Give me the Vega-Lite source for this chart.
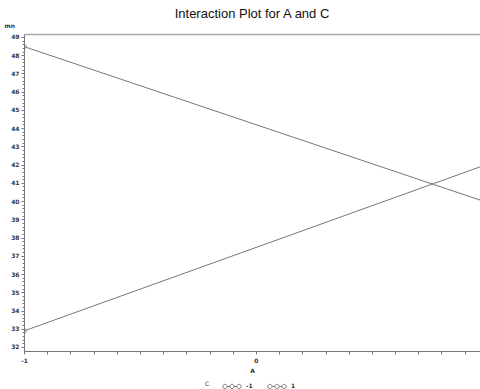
{
  "$schema": "https://vega.github.io/schema/vega-lite/v6.json",
  "width": 456,
  "height": 317,
  "autosize": {"type": "none"},
  "padding": {"left": 24, "top": 34, "right": 0, "bottom": 38},
  "background": "white",
  "title": {"text": "Interaction Plot for A and C", "fontSize": 13, "font": "Liberation Sans", "fontWeight": "normal", "color": "#111", "offset": 1, "anchor": "middle"},
  "config": {
    "view": {"stroke": null},
    "axis": {"labelFont": "DejaVu Sans", "labelFontSize": 6, "labelFontWeight": "bold", "labelColor": "#333", "domainColor": "#777", "tickColor": "#777", "grid": false, "titleFont": "DejaVu Sans", "titleFontSize": 6, "titleFontWeight": "bold", "titleColor": "#333"},
    "legend": {"labelFont": "DejaVu Sans", "labelFontSize": 6, "labelFontWeight": "bold", "labelColor": "#333", "titleFont": "DejaVu Sans", "titleFontSize": 6, "titleFontWeight": "normal", "titleColor": "#333"}
  },
  "data": {"values": [
    {"A": -1, "C": "-1", "mn": 48.47},
    {"A": 1, "C": "-1", "mn": 39.91},
    {"A": -1, "C": "1", "mn": 32.88},
    {"A": 1, "C": "1", "mn": 42.03}
  ]},
  "resolve": {"axis": {"x": "independent", "y": "independent"}},
  "layer": [
    {
      "mark": {"type": "line", "clip": true, "strokeWidth": 1},
      "encoding": {
        "x": {"field": "A", "type": "quantitative", "scale": {"domain": [-1, 0.966], "nice": false, "zero": false},
          "axis": {"orient": "bottom", "values": [-1, -0.9, -0.8, -0.7, -0.6, -0.5, -0.4, -0.3, -0.2, -0.1, 0, 0.1, 0.2, 0.3, 0.4, 0.5, 0.6, 0.7, 0.8, 0.9],
            "labelExpr": "datum.value == 0 ? '0' : (datum.value == -1 ? '-1' : '')", "tickSize": 3, "labelPadding": 3, "title": "A", "titlePadding": 4, "labelFlush": false, "labelOverlap": false}},
        "y": {"field": "mn", "type": "quantitative", "scale": {"domain": [31.78, 49.16], "nice": false, "zero": false},
          "axis": {"orient": "left", "values": [32, 33, 34, 35, 36, 37, 38, 39, 40, 41, 42, 43, 44, 45, 46, 47, 48, 49], "tickSize": 3, "labelPadding": 2,
            "title": "mn", "titleAngle": 0, "titleX": -20, "titleY": -6, "titleAlign": "left", "titleBaseline": "bottom", "labelOverlap": false}},
        "color": {"field": "C", "type": "nominal", "scale": {"range": ["#777777", "#777777"]},
          "legend": {"orient": "none", "legendX": 181, "legendY": 344, "direction": "horizontal", "titleOrient": "left", "title": "C", "titlePadding": 14,
            "symbolType": "M-1.3,0 A0.3,0.3 0 1,1 -0.7,0 A0.3,0.3 0 1,1 -1.3,0 M-0.7,0 L-0.3,0 A0.3,0.3 0 1,1 0.3,0 A0.3,0.3 0 1,1 -0.3,0 M0.3,0 L0.7,0 A0.3,0.3 0 1,1 1.3,0 A0.3,0.3 0 1,1 0.7,0",
            "symbolSize": 200, "symbolStrokeWidth": 1, "symbolFillColor": "transparent", "symbolStrokeColor": "#777", "labelOffset": 6, "columnPadding": 12}}
      }
    },
    {
      "mark": {"type": "point", "shape": "circle", "filled": false, "clip": true, "size": 22, "strokeWidth": 1, "color": "#777777"},
      "encoding": {
        "x": {"field": "A", "type": "quantitative", "axis": {"orient": "top", "ticks": false, "labels": false, "title": null, "domainWidth": 1.5, "domainColor": "#aaa"}},
        "y": {"field": "mn", "type": "quantitative",
          "axis": {"orient": "left", "labels": false, "title": null, "tickSize": 2, "domain": false,
            "values": [32, 32.2, 32.4, 32.6, 32.8, 33, 33.2, 33.4, 33.6, 33.8, 34, 34.2, 34.4, 34.6, 34.8, 35, 35.2, 35.4, 35.6, 35.8, 36, 36.2, 36.4, 36.6, 36.8, 37, 37.2, 37.4, 37.6, 37.8, 38, 38.2, 38.4, 38.6, 38.8, 39, 39.2, 39.4, 39.6, 39.8, 40, 40.2, 40.4, 40.6, 40.8, 41, 41.2, 41.4, 41.6, 41.8, 42, 42.2, 42.4, 42.6, 42.8, 43, 43.2, 43.4, 43.6, 43.8, 44, 44.2, 44.4, 44.6, 44.8, 45, 45.2, 45.4, 45.6, 45.8, 46, 46.2, 46.4, 46.6, 46.8, 47, 47.2, 47.4, 47.6, 47.8, 48, 48.2, 48.4, 48.6, 48.8, 49]}},
        "detail": {"field": "C"}
      }
    }
  ]
}
